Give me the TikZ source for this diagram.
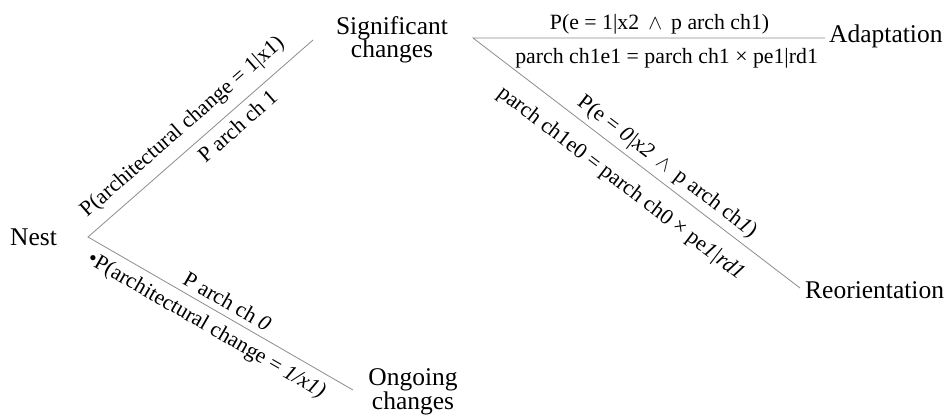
\documentclass[tikz,border=0pt]{standalone}
\usepackage{fontspec}
\setmainfont{Liberation Serif}
\begin{document}
\begin{tikzpicture}[x=1pt,y=-1pt,
  conn/.style={draw=black!45, line width=0.8pt},
  state/.style={inner sep=0pt, font=\fontsize{25.5}{23.5}\selectfont, align=center},
  elab/.style={sloped, font=\fontsize{21.8}{23}\selectfont}]
\useasboundingbox (0,0) rectangle (949,418);
% vertices
\coordinate (n) at (88,237);
\coordinate (s) at (313,40);
\coordinate (o) at (353,390);
\coordinate (s2) at (473,38);
\coordinate (a) at (825,38);
\coordinate (r) at (800,288);
% state labels
\node[state, anchor=base west] (nest) at (10,245) {Nest};
\node[state] (sig) at (392,40) {Significant\\changes};
\node[state] (ong) at (413,392) {Ongoing\\changes};
\node[state, anchor=base west] (adp) at (829,42) {Adaptation};
\node[state, anchor=base west] (reo) at (805,298) {Reorientation};
% connectors
\draw[conn] (s) -- (n) -- (o);
\path (n) -- (s)
  node[elab, pos=0.48, above, inner sep=10pt] {P(architectural change = 1|x1)}
  node[elab, pos=0.62, below, inner sep=7pt] {P arch ch 1};
\path (n) -- (o)
  node[elab, pos=0.5, above, inner sep=6pt] {P arch ch \textit{0}}
  node[elab, pos=0.48, below, inner sep=8pt] {•P(architectural change = \textit{1/x1)}};
\draw[conn] (a) -- (s2) -- (r);
\path (s2) -- (a)
  node[elab, pos=0.53, above, inner sep=4pt] {P(e = 1|x2 \,$\wedge$\, p arch ch1)}
  node[elab, pos=0.55, below, inner sep=10pt] {parch ch1e1 = parch ch1 × pe1|rd1};
\path (s2) -- (r)
  node[elab, pos=0.565, above, inner sep=5pt] {P(e = \textit{0|x2} \,$\wedge$\, p arch ch\textit{1})}
  node[elab, pos=0.5, below, inner sep=16pt] {parch ch1e0 = parch ch0 × pe\textit{1|rd1}};
\end{tikzpicture}
\end{document}
